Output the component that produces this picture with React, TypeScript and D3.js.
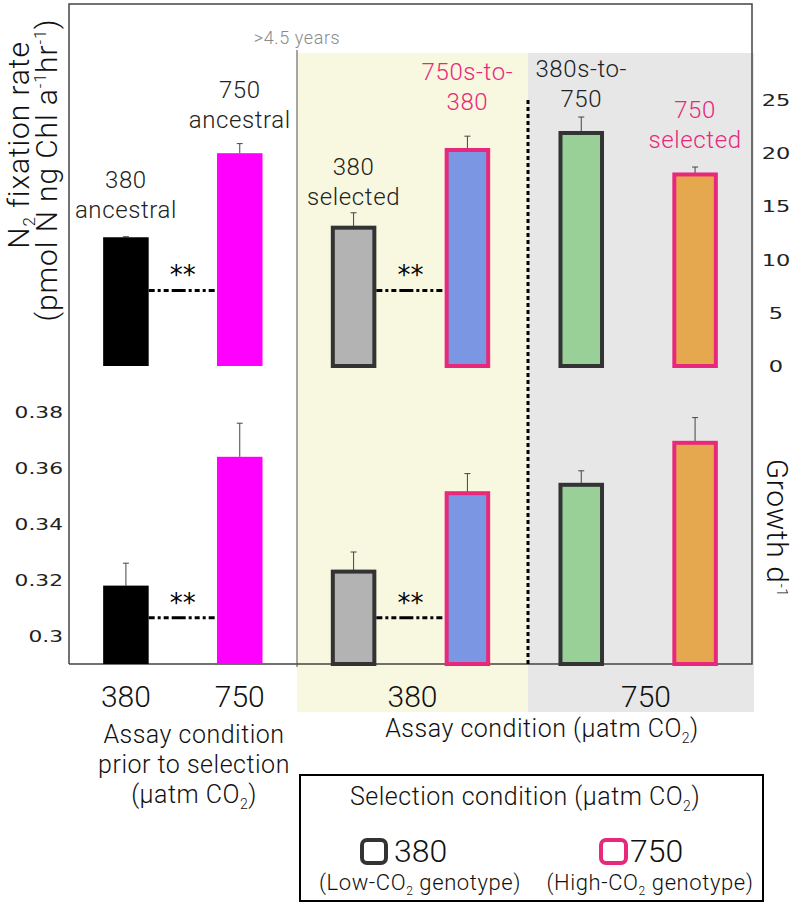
import React from "react";
import * as d3 from "d3";

const categories = ["380 ancestral", "750 ancestral", "380 selected", "750s-to-380", "380s-to-750", "750 selected"];
const n2Values = [12.1, 20.0, 13.0, 20.3, 21.9, 18.0];
const n2Errors = [0.05, 0.9, 1.4, 1.3, 1.5, 0.7];
const growthValues = [0.318, 0.364, 0.323, 0.351, 0.354, 0.369];
const growthErrors = [0.008, 0.012, 0.007, 0.007, 0.005, 0.009];
const labelLine1 = ["380", "750", "380", "750s-to-", "380s-to-", "750"];
const labelLine2 = ["ancestral", "ancestral", "selected", "380", "750", "selected"];
const n2Ticks = [0, 5, 10, 15, 20, 25];
const growthTicks = [0.3, 0.32, 0.34, 0.36, 0.38];
const assayLabels = ["380", "750", "380", "750"];
const sigN2 = 7.1;
const sigGrowth = 0.3065;

// styles
const fills = ["#000000", "#ff00ff", "#b3b3b3", "#7b96e3", "#98d098", "#e6a84f"];
const strokes = [null, null, "#333333", "#e8287a", "#333333", "#e8287a"];
const labelColors = ["#222", "#222", "#222", "#e8287a", "#222", "#e8287a"];
const labelBaselines = [218, 128, 205, 110, 107, 148];
const PINK = "#e8287a";
const FONT = "Roboto, 'Liberation Sans', Arial, sans-serif";
const TICKFONT = "'DejaVu Sans', sans-serif";

const FR = { left: 69, right: 752, top: 4, bottom: 664 };
const DIV1 = 297;
const DIV2 = 528;
const BG_RIGHT = 754;
const BG_TOP = 53;
const BG_BOTTOM = 712;

export default function App() {
  const x = d3.scaleBand<string>().domain(categories).range([FR.left, FR.right]).paddingInner(0.6).paddingOuter(0.3);
  const yTop = d3.scaleLinear().domain([0, 25]).range([366, 100]);
  const yBot = d3.scaleLinear().domain([0.29, 0.39]).range([664, 384]);
  const bw = x.bandwidth();
  const cx = (c: string) => (x(c) as number) + bw / 2;

  const renderBars = (vals: number[], errs: number[], y: d3.ScaleLinear<number, number>, base: number, key: string) =>
    categories.map((c, i) => {
      const x0 = x(c) as number;
      const s = strokes[i];
      const top = y(vals[i]);
      const inset = s ? 2 : 0;
      const et = y(vals[i] + errs[i]);
      return (
        <g key={key + i}>
          <line x1={x0 + bw / 2} x2={x0 + bw / 2} y1={top} y2={et} stroke="#444" strokeWidth={1} />
          <line x1={x0 + bw / 2 - 3} x2={x0 + bw / 2 + 3} y1={et} y2={et} stroke="#444" strokeWidth={1} />
          <rect
            x={x0 + inset}
            y={top}
            width={bw - 2 * inset}
            height={base - top}
            fill={fills[i]}
            stroke={s || "none"}
            strokeWidth={s ? 4 : 0}
          />
        </g>
      );
    });

  const sigMarks = (y: number, key: string) =>
    [0, 2].map((i) => {
      const xa = (x(categories[i]) as number) + bw;
      const xb = x(categories[i + 1]) as number;
      return (
        <g key={key + i}>
          <line x1={xa} x2={xb} y1={y} y2={y} stroke="#000" strokeWidth={3} strokeDasharray="6 3 3 3 5 3 14 3 3 3 5 3 3 3" />
          <text x={(xa + xb) / 2} y={y - 6} textAnchor="middle" fontSize={26} fontFamily={TICKFONT} fill="#000">
            **
          </text>
        </g>
      );
    });

  const fmt = (v: number) => (v === 0.3 ? "0.3" : d3.format(".2f")(v));

  return (
    <svg width={796} height={903} style={{ position: "absolute", left: 0, top: 0, background: "#fff" }} fontFamily={FONT}>
      {/* backgrounds */}
      <rect x={DIV1} y={BG_TOP} width={DIV2 - DIV1} height={BG_BOTTOM - BG_TOP} fill="#f8f7e0" />
      <rect x={DIV2} y={BG_TOP} width={BG_RIGHT - DIV2} height={BG_BOTTOM - BG_TOP} fill="#e7e7e7" />
      <line x1={DIV1} x2={DIV1} y1={50} y2={667} stroke="#888" strokeWidth={1.5} />
      {/* frame */}
      <path
        d={`M${FR.left},${FR.bottom}V${FR.top}H${FR.right}V${FR.bottom}H${FR.left}`}
        fill="none"
        stroke="#444"
        strokeWidth={1.5}
      />
      <text x={DIV1} y={44} textAnchor="middle" fontSize={18} letterSpacing={0.6} fill="#8a8a8a" fontWeight={300}>
        &gt;4.5 years
      </text>

      {renderBars(n2Values, n2Errors, yTop, yTop(0), "t")}
      {renderBars(growthValues, growthErrors, yBot, FR.bottom, "b")}

      {sigMarks(yTop(sigN2), "st")}
      {sigMarks(yBot(sigGrowth), "sb")}

      <line x1={DIV2} x2={DIV2} y1={100} y2={FR.bottom} stroke="#000" strokeWidth={3} strokeDasharray="4 3" />

      {/* bar labels */}
      {categories.map((c, i) => (
        <text key={"lab" + i} x={cx(c)} textAnchor="middle" fontSize={24} letterSpacing={0.6} fontWeight={300} fill={labelColors[i]}>
          <tspan x={cx(c)} y={labelBaselines[i] - 30}>{labelLine1[i]}</tspan>
          <tspan x={cx(c)} y={labelBaselines[i]}>{labelLine2[i]}</tspan>
        </text>
      ))}

      {/* right ticks top */}
      {n2Ticks.map((t) => (
        <text
          key={"nt" + t}
          transform={`translate(776,${yTop(t) + 6}) scale(1.5,1)`}
          textAnchor="middle"
          fontSize={15}
          fontFamily={TICKFONT}
          fill="#222"
        >
          {t}
        </text>
      ))}
      {/* left ticks bottom */}
      {growthTicks.map((t) => (
        <text
          key={"gt" + t}
          transform={`translate(63,${yBot(t) + 6}) scale(1.45,1)`}
          textAnchor="end"
          fontSize={15}
          fontFamily={TICKFONT}
          fill="#222"
        >
          {fmt(t)}
        </text>
      ))}

      {/* left y label */}
      <text transform="translate(29,145) rotate(-90)" textAnchor="middle" fontSize={30} letterSpacing={0.9} fontWeight={300} fill="#111">
        N<tspan fontSize={17} dy={6}>2</tspan>
        <tspan dy={-6}> fixation rate</tspan>
      </text>
      <text transform="translate(57,170) rotate(-90)" textAnchor="middle" fontSize={30} letterSpacing={0.9} fontWeight={300} fill="#111">
        (pmol N ng Chl a<tspan fontSize={16} dy={-11}>-1</tspan>
        <tspan dy={11}>hr</tspan>
        <tspan fontSize={16} dy={-11}>-1</tspan>
        <tspan dy={11}>)</tspan>
      </text>
      {/* right y label */}
      <text transform="translate(767,528) rotate(90)" textAnchor="middle" fontSize={30} letterSpacing={0.6} fontWeight={300} fill="#111">
        Growth d<tspan fontSize={15} dy={-10}>-1</tspan>
      </text>

      {/* assay labels */}
      {[cx(categories[0]), cx(categories[1]), (DIV1 + DIV2) / 2, 646].map((px, i) => (
        <text key={"al" + i} x={px} y={707} textAnchor="middle" fontSize={30} fontWeight={300} fill="#111">
          {assayLabels[i]}
        </text>
      ))}

      <text textAnchor="middle" fontSize={25} letterSpacing={0.5} fontWeight={300} fill="#111">
        <tspan x={194} y={743}>Assay condition</tspan>
        <tspan x={194} y={773}>prior to selection</tspan>
      </text>
      <text x={194} y={803} textAnchor="middle" fontSize={25} letterSpacing={0.5} fontWeight={300} fill="#111">
        (µatm CO<tspan fontSize={14} dy={6}>2</tspan>
        <tspan dy={-6}>)</tspan>
      </text>
      <text x={542} y={737} textAnchor="middle" fontSize={25} letterSpacing={0.5} fontWeight={300} fill="#111">
        Assay condition (µatm CO<tspan fontSize={14} dy={6}>2</tspan>
        <tspan dy={-6}>)</tspan>
      </text>

      {/* legend */}
      <rect x={300} y={775} width={463} height={126} fill="#fff" stroke="#000" strokeWidth={2} />
      <text x={525} y={805} textAnchor="middle" fontSize={25} letterSpacing={0.5} fontWeight={300} fill="#111">
        Selection condition (µatm CO<tspan fontSize={14} dy={6}>2</tspan>
        <tspan dy={-6}>)</tspan>
      </text>
      <rect x={362} y={840} width={24} height={23} rx={5} fill="#fff" stroke="#333" strokeWidth={4} />
      <text x={394} y={862} fontSize={32} fontWeight={300} fill="#111">380</text>
      <rect x={601} y={840} width={25} height={23} rx={5} fill="#fff" stroke={PINK} strokeWidth={4} />
      <text x={630} y={862} fontSize={32} fontWeight={300} fill="#111">750</text>
      <text x={420} y={890} textAnchor="middle" fontSize={22} letterSpacing={0.6} fontWeight={300} fill="#111">
        (Low-CO<tspan fontSize={12} dy={5}>2</tspan>
        <tspan dy={-5}> genotype)</tspan>
      </text>
      <text x={650} y={890} textAnchor="middle" fontSize={22} letterSpacing={0.6} fontWeight={300} fill="#111">
        (High-CO<tspan fontSize={12} dy={5}>2</tspan>
        <tspan dy={-5}> genotype)</tspan>
      </text>
    </svg>
  );
}
